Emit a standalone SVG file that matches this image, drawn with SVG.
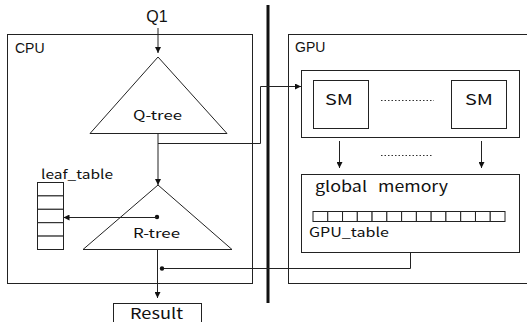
<svg xmlns="http://www.w3.org/2000/svg" width="527" height="322" viewBox="0 0 527 322">
<defs>
<style>
.ln{fill:none;stroke:#222;stroke-width:1}
.bx{fill:#fff;stroke:#222;stroke-width:1}
.dot{fill:none;stroke:#333;stroke-width:1;stroke-dasharray:1.5 2}
.t{font-family:"Liberation Sans",Arial,sans-serif;fill:#111}
.k{font-family:"Noto Sans CJK KR","Noto Sans",sans-serif;fill:#111}
</style>
<marker id="ah" viewBox="0 0 10 10" refX="10" refY="5" markerWidth="6" markerHeight="6" orient="auto" markerUnits="userSpaceOnUse">
<path d="M0,0 L10,5 L0,10 z" fill="#111"/>
</marker>
</defs>
<rect width="527" height="322" fill="#fff"/>

<g id="cpu">
<rect class="bx" x="7.5" y="34.5" width="245" height="249"/>
<text class="t" x="15" y="53" font-size="14">CPU</text>
</g>
<g id="gpu">
<rect class="bx" x="288.5" y="34.5" width="245" height="249"/>
<text class="t" x="295" y="52" font-size="14">GPU</text>
</g>
<g id="divider">
<line x1="268" y1="5" x2="268" y2="303" stroke="#111" stroke-width="3"/>
</g>

<g id="q1">
<text class="t" x="157" y="22" font-size="16" text-anchor="middle">Q1</text>
</g>
<g id="qtree">
<path class="bx" d="M158,57 L227,133.5 L90,133.5 Z"/>
<text class="k" x="133" y="120" font-size="13" textLength="49" lengthAdjust="spacingAndGlyphs">Q-tree</text>
</g>
<g id="rtree">
<path class="bx" d="M158,185 L232,249.5 L83,249.5 Z"/>
<text class="k" x="133" y="238" font-size="13" textLength="47" lengthAdjust="spacingAndGlyphs">R-tree</text>
</g>
<g id="leaf_table">
<text class="k" x="41" y="179" font-size="13" textLength="72" lengthAdjust="spacingAndGlyphs">leaf_table</text>
<rect class="bx" x="37.5" y="182.5" width="26" height="13.4"/>
<rect class="bx" x="37.5" y="195.9" width="26" height="13.4"/>
<rect class="bx" x="37.5" y="209.3" width="26" height="13.4"/>
<rect class="bx" x="37.5" y="222.7" width="26" height="13.4"/>
<rect class="bx" x="37.5" y="236.1" width="26" height="13.4"/>
</g>
<g id="result">
<rect class="bx" x="113.5" y="303.5" width="88" height="22"/>
<text class="k" x="130" y="319" font-size="15" textLength="53" lengthAdjust="spacingAndGlyphs">Result</text>
</g>

<g id="sm_container">
<rect class="bx" x="301.5" y="70.5" width="218" height="67"/>
</g>
<g id="sm1">
<rect class="bx" x="313.5" y="80.5" width="55" height="48"/>
<text class="k" x="325" y="105" font-size="15" textLength="28" lengthAdjust="spacingAndGlyphs">SM</text>
</g>
<g id="sm2">
<rect class="bx" x="451.5" y="80.5" width="55" height="48"/>
<text class="k" x="465" y="105" font-size="15" textLength="28" lengthAdjust="spacingAndGlyphs">SM</text>
</g>
<g id="global_memory">
<rect class="bx" x="301.5" y="174.5" width="218" height="78"/>
<text class="k" x="315" y="192" font-size="15" textLength="52" lengthAdjust="spacingAndGlyphs">global</text>
<text class="k" x="378" y="192" font-size="15" textLength="70" lengthAdjust="spacingAndGlyphs">memory</text>
<g class="bx">
<rect x="313" y="211.5" width="14.77" height="10"/>
<rect x="327.77" y="211.5" width="14.77" height="10"/>
<rect x="342.54" y="211.5" width="14.77" height="10"/>
<rect x="357.31" y="211.5" width="14.77" height="10"/>
<rect x="372.08" y="211.5" width="14.77" height="10"/>
<rect x="386.85" y="211.5" width="14.77" height="10"/>
<rect x="401.62" y="211.5" width="14.77" height="10"/>
<rect x="416.39" y="211.5" width="14.77" height="10"/>
<rect x="431.16" y="211.5" width="14.77" height="10"/>
<rect x="445.93" y="211.5" width="14.77" height="10"/>
<rect x="460.7" y="211.5" width="14.77" height="10"/>
<rect x="475.47" y="211.5" width="14.77" height="10"/>
<rect x="490.24" y="211.5" width="14.77" height="10"/>
</g>
<text class="k" x="309" y="237" font-size="13" textLength="80" lengthAdjust="spacingAndGlyphs">GPU_table</text>
</g>

<g id="connectors">
<line class="ln" x1="158" y1="28" x2="158" y2="53" marker-end="url(#ah)"/>
<line class="ln" x1="158" y1="133.5" x2="158" y2="185" marker-end="url(#ah)"/>
<circle cx="157" cy="217" r="2.2" fill="#111"/>
<line class="ln" x1="157" y1="217.5" x2="63.5" y2="217.5" marker-end="url(#ah)"/>
<polyline class="ln" points="158,143.5 260.5,143.5 260.5,86.5 301,86.5" marker-end="url(#ah)"/>
<line class="ln" x1="339.5" y1="141" x2="339.5" y2="168" marker-end="url(#ah)"/>
<line class="ln" x1="481.5" y1="141" x2="481.5" y2="168" marker-end="url(#ah)"/>
<line class="dot" x1="381" y1="100.5" x2="434" y2="100.5"/>
<line class="dot" x1="381" y1="155.5" x2="432" y2="155.5"/>
<polyline class="ln" points="410.5,252.5 410.5,268.5 162,268.5"/>
<circle cx="162" cy="268.5" r="2.2" fill="#111"/>
<line class="ln" x1="157.5" y1="249.5" x2="157.5" y2="298" marker-end="url(#ah)"/>
</g>
</svg>
